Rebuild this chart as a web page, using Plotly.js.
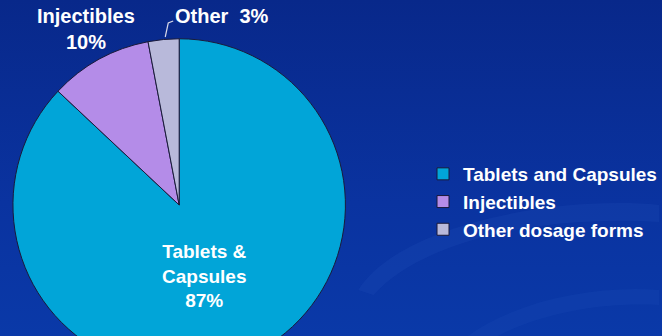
<!DOCTYPE html>
<html>
<head>
<meta charset="utf-8">
<script src="https://cdn.plot.ly/plotly-3.0.1.min.js"></script>
<style>
  html, body { margin: 0; padding: 0; width: 662px; height: 336px; overflow: hidden; }
  body { background: linear-gradient(180deg, #08288a 0%, #0a33a0 60%, #0a39a8 100%); }
  #chart { width: 662px; height: 380px; }
</style>
</head>
<body>
<div id="chart"></div>
<script>
// ---- data ----
const legendNames = ['Tablets and Capsules', 'Injectibles', 'Other dosage forms'];
const sliceLabels = ['Tablets &amp;<br>Capsules', 'Injectibles', 'Other'];
const values = [87, 10, 3];
const sliceColors = ['#01a5d8', '#b48ce8', '#b8b9da'];

// ---- geometry helpers (pixel -> paper) ----
const W = 662, H = 380;
const px = x => x / W;
const py = y => 1 - y / H;

const pie = {
  type: 'pie',
  labels: legendNames,
  values: values,
  sort: false,
  direction: 'clockwise',
  rotation: 0,
  textinfo: 'none',
  hoverinfo: 'label+percent',
  marker: { colors: sliceColors, line: { color: '#1a1a3a', width: 1 } },
  domain: { x: [px(13), px(347)], y: [py(372), py(38)] }
};

const labelFont = { family: 'Liberation Sans, Arial, sans-serif', size: 19, color: '#ffffff', weight: 700 };
const topFont = { family: 'Liberation Sans, Arial, sans-serif', size: 20, color: '#ffffff', weight: 700 };

const annotations = [
  { text: sliceLabels[0] + '<br>' + values[0] + '%', x: px(205), y: py(276), font: labelFont },
  { text: sliceLabels[1] + '<br>' + values[1] + '%', x: px(86), y: py(29), font: topFont },
  { text: sliceLabels[2] + '  ' + values[2] + '%', x: px(223), y: py(16), font: topFont }
].map(a => Object.assign({ xref: 'paper', yref: 'paper', xanchor: 'center', yanchor: 'middle', showarrow: false }, a));

const layout = {
  width: W, height: H,
  margin: { l: 0, r: 0, t: 0, b: 0 },
  paper_bgcolor: 'rgba(0,0,0,0)',
  plot_bgcolor: 'rgba(0,0,0,0)',
  showlegend: true,
  legend: {
    x: px(425), y: py(155), xanchor: 'left', yanchor: 'top',
    bgcolor: 'rgba(0,0,0,0)',
    font: { family: 'Liberation Sans, Arial, sans-serif', size: 19, color: '#ffffff', weight: 700 },
    itemclick: false
  },
  annotations: annotations,
  shapes: [
    { type: 'path', xref: 'paper', yref: 'paper', layer: 'below', line: { width: 0 },
      fillcolor: 'rgba(60,110,210,0.11)',
      path: 'M ' + px(360) + ',' + py(290) + ' C ' + px(400) + ',' + py(225) + ' ' + px(560) + ',' + py(195) + ' ' + px(662) + ',' + py(205) +
            ' L ' + px(662) + ',' + py(222) + ' C ' + px(560) + ',' + py(215) + ' ' + px(430) + ',' + py(235) + ' ' + px(375) + ',' + py(295) + ' Z' },
    { type: 'path', xref: 'paper', yref: 'paper', layer: 'below', line: { width: 0 },
      fillcolor: 'rgba(60,110,210,0.09)',
      path: 'M ' + px(470) + ',' + py(336) + ' C ' + px(520) + ',' + py(300) + ' ' + px(600) + ',' + py(285) + ' ' + px(662) + ',' + py(290) +
            ' L ' + px(662) + ',' + py(305) + ' C ' + px(600) + ',' + py(302) + ' ' + px(540) + ',' + py(315) + ' ' + px(500) + ',' + py(336) + ' Z' },
    { type: 'path', xref: 'paper', yref: 'paper', layer: 'above', line: { color: '#d8d8e8', width: 1.2 },
      path: 'M ' + px(166) + ',' + py(37) + ' L ' + px(169) + ',' + py(23) + ' L ' + px(174) + ',' + py(21) }
  ]
};

Plotly.newPlot('chart', [pie], layout, { displayModeBar: false, staticPlot: true });
</script>
</body>
</html>
